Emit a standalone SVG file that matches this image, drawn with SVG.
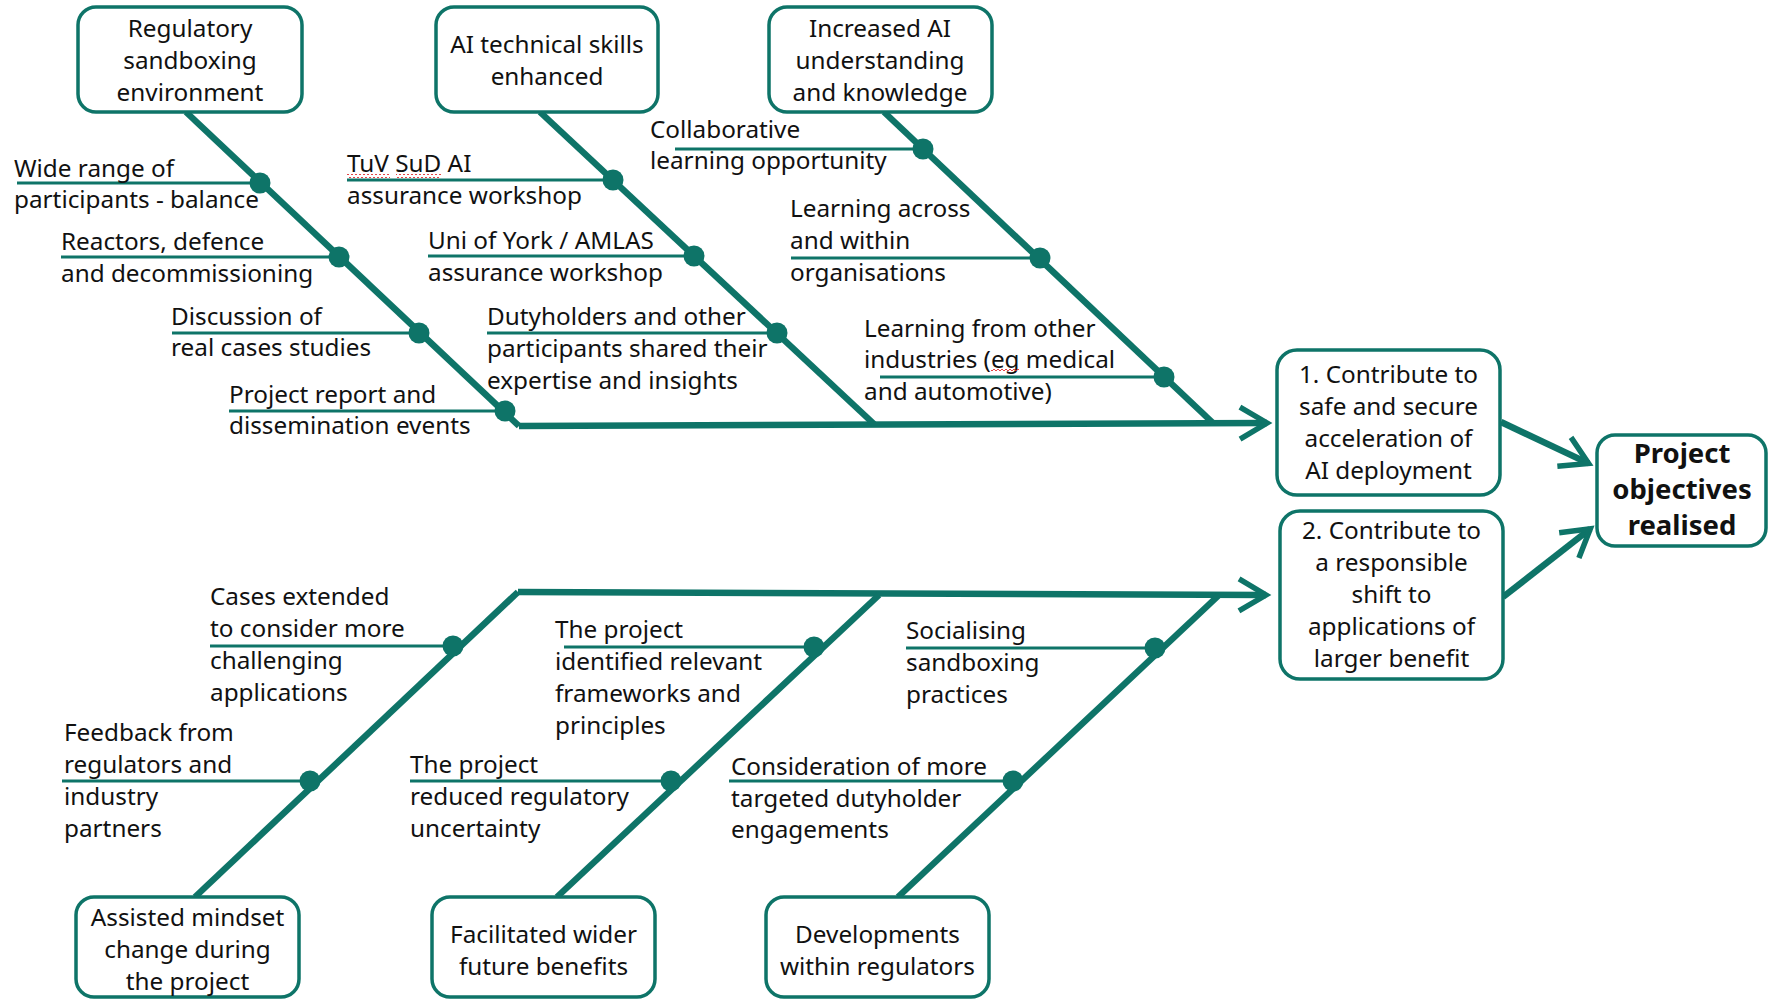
<svg xmlns="http://www.w3.org/2000/svg" width="1769" height="1000" viewBox="0 0 1769 1000">
  <style>
    .box { fill: #ffffff; stroke: #0E7468; stroke-width: 3.5; }
    .t { font-family: "Noto Sans", "Liberation Sans", Arial, sans-serif; font-size: 24.3px; fill: #111111; }
    .c { text-anchor: middle; }
    .b { font-weight: bold; font-size: 27.5px; }
    .bone { stroke: #0E7468; stroke-width: 6.5; fill: none; stroke-linecap: butt; }
    .sub { stroke: #0E7468; stroke-width: 3.2; fill: none; }
    .dot { fill: #0E7468; }
    .arr { stroke: #0E7468; stroke-width: 6.5; fill: none; marker-end: url(#head); }
    .sq { fill: url(#squiggle); }
  </style>
  <defs>
    <marker id="head" markerUnits="userSpaceOnUse" viewBox="-5 -25 50 50" markerWidth="50" markerHeight="50" refX="28" refY="0" orient="auto">
      <path d="M1,-16 L28,0 L1,16" fill="none" stroke="#0E7468" stroke-width="5.5" stroke-linejoin="miter" stroke-miterlimit="10"/>
    </marker>
    <pattern id="squiggle" patternUnits="userSpaceOnUse" x="0" y="0" width="4" height="4">
      <path d="M0,3 L2,1 L4,3" fill="none" stroke="#E03030" stroke-width="0.9"/>
    </pattern>
  </defs>

  <rect width="1769" height="1000" fill="#ffffff"/>

  <!-- Connectors: spines, bones, branch lines, dots, arrows -->
  <g id="connectors">
    <!-- top spine -->
    <path class="arr" d="M519,426 L1267,423"/>
    <!-- bottom spine -->
    <path class="arr" d="M518,592 L1266,595"/>
    <!-- outcome arrows -->
    <path class="arr" d="M1501,422 L1588.6,463.4"/>
    <path class="arr" d="M1503,597 L1590.3,528.7"/>

    <!-- top bones -->
    <path class="bone" d="M186,112 L519,426"/>
    <path class="bone" d="M540,112 L874,424"/>
    <path class="bone" d="M884,112 L1213,423"/>
    <!-- bottom bones -->
    <path class="bone" d="M518,592 L195,897"/>
    <path class="bone" d="M879,595 L557,897"/>
    <path class="bone" d="M1218,596 L898,897"/>

    <!-- branch lines, top -->
    <path class="sub" d="M17,183 H260"/>
    <path class="sub" d="M61,257 H339"/>
    <path class="sub" d="M172,333 H419"/>
    <path class="sub" d="M229,411 H505"/>
    <path class="sub" d="M347,180 H613"/>
    <path class="sub" d="M428,256 H694"/>
    <path class="sub" d="M487,333 H777"/>
    <path class="sub" d="M675,149 H923"/>
    <path class="sub" d="M791,258 H1040"/>
    <path class="sub" d="M880,377 H1164"/>
    <!-- branch lines, bottom -->
    <path class="sub" d="M210,646 H453"/>
    <path class="sub" d="M62,781 H310"/>
    <path class="sub" d="M564,647 H814"/>
    <path class="sub" d="M410,781 H671"/>
    <path class="sub" d="M906,648 H1155"/>
    <path class="sub" d="M729,781 H1013"/>

    <!-- dots -->
    <circle class="dot" cx="260" cy="183" r="10.5"/>
    <circle class="dot" cx="339" cy="257" r="10.5"/>
    <circle class="dot" cx="419" cy="333" r="10.5"/>
    <circle class="dot" cx="505" cy="411" r="10.5"/>
    <circle class="dot" cx="613" cy="180" r="10.5"/>
    <circle class="dot" cx="694" cy="256" r="10.5"/>
    <circle class="dot" cx="777" cy="333" r="10.5"/>
    <circle class="dot" cx="923" cy="149" r="10.5"/>
    <circle class="dot" cx="1040" cy="258" r="10.5"/>
    <circle class="dot" cx="1164" cy="377" r="10.5"/>
    <circle class="dot" cx="453" cy="646" r="10.5"/>
    <circle class="dot" cx="310" cy="781" r="10.5"/>
    <circle class="dot" cx="814" cy="647" r="10.5"/>
    <circle class="dot" cx="671" cy="781" r="10.5"/>
    <circle class="dot" cx="1155" cy="648" r="10.5"/>
    <circle class="dot" cx="1013" cy="781" r="10.5"/>
  </g>

  <!-- Top category nodes -->
  <g id="node-sandboxing">
    <rect class="box" x="78" y="7" width="224" height="105" rx="18"/>
    <text class="t c" x="190" y="37">Regulatory</text>
    <text class="t c" x="190" y="69">sandboxing</text>
    <text class="t c" x="190" y="101">environment</text>
  </g>
  <g id="node-skills">
    <rect class="box" x="436" y="7" width="222" height="105" rx="18"/>
    <text class="t c" x="547" y="53">AI technical skills</text>
    <text class="t c" x="547" y="85">enhanced</text>
  </g>
  <g id="node-understanding">
    <rect class="box" x="769" y="7" width="223" height="105" rx="18"/>
    <text class="t c" x="880" y="37">Increased AI</text>
    <text class="t c" x="880" y="69">understanding</text>
    <text class="t c" x="880" y="101">and knowledge</text>
  </g>

  <!-- Bottom category nodes -->
  <g id="node-mindset">
    <rect class="box" x="76" y="897" width="223" height="100" rx="18"/>
    <text class="t c" x="187.5" y="926">Assisted mindset</text>
    <text class="t c" x="187.5" y="958">change during</text>
    <text class="t c" x="187.5" y="990">the project</text>
  </g>
  <g id="node-benefits">
    <rect class="box" x="432" y="897" width="223" height="100" rx="18"/>
    <text class="t c" x="543.5" y="943">Facilitated wider</text>
    <text class="t c" x="543.5" y="975">future benefits</text>
  </g>
  <g id="node-regulators">
    <rect class="box" x="766" y="897" width="223" height="100" rx="18"/>
    <text class="t c" x="877.5" y="943">Developments</text>
    <text class="t c" x="877.5" y="975">within regulators</text>
  </g>

  <!-- Outcome nodes -->
  <g id="node-outcome-1">
    <rect class="box" x="1277" y="350" width="223" height="145" rx="20"/>
    <text class="t c" x="1388.5" y="383">1. Contribute to</text>
    <text class="t c" x="1388.5" y="415">safe and secure</text>
    <text class="t c" x="1388.5" y="447">acceleration of</text>
    <text class="t c" x="1388.5" y="479">AI deployment</text>
  </g>
  <g id="node-outcome-2">
    <rect class="box" x="1280" y="511" width="223" height="168" rx="20"/>
    <text class="t c" x="1391.5" y="539">2. Contribute to</text>
    <text class="t c" x="1391.5" y="571">a responsible</text>
    <text class="t c" x="1391.5" y="603">shift to</text>
    <text class="t c" x="1391.5" y="635">applications of</text>
    <text class="t c" x="1391.5" y="667">larger benefit</text>
  </g>
  <g id="node-objectives">
    <rect class="box" x="1597" y="435" width="169" height="111" rx="18"/>
    <text class="t c b" x="1682" y="463">Project</text>
    <text class="t c b" x="1682" y="499">objectives</text>
    <text class="t c b" x="1682" y="535">realised</text>
  </g>

  <!-- Branch labels, top -->
  <g id="label-wide-range">
    <text class="t" x="14" y="177">Wide range of</text>
    <text class="t" x="14" y="208">participants - balance</text>
  </g>
  <g id="label-reactors">
    <text class="t" x="61" y="250">Reactors, defence</text>
    <text class="t" x="61" y="282">and decommissioning</text>
  </g>
  <g id="label-discussion">
    <text class="t" x="171" y="325">Discussion of</text>
    <text class="t" x="171" y="356">real cases studies</text>
  </g>
  <g id="label-report">
    <text class="t" x="229" y="403">Project report and</text>
    <text class="t" x="229" y="434">dissemination events</text>
  </g>
  <g id="label-tuv">
    <text class="t" x="347" y="172">TuV SuD AI</text>
    <text class="t" x="347" y="204">assurance workshop</text>
    <rect class="sq" x="347" y="174" width="43" height="4"/>
    <rect class="sq" x="396" y="174" width="45" height="4"/>
  </g>
  <g id="label-york">
    <text class="t" x="428" y="249">Uni of York / AMLAS</text>
    <text class="t" x="428" y="281">assurance workshop</text>
  </g>
  <g id="label-dutyholders">
    <text class="t" x="487" y="325">Dutyholders and other</text>
    <text class="t" x="487" y="357">participants shared their</text>
    <text class="t" x="487" y="389">expertise and insights</text>
  </g>
  <g id="label-collaborative">
    <text class="t" x="650" y="138">Collaborative</text>
    <text class="t" x="650" y="169">learning opportunity</text>
  </g>
  <g id="label-learning-across">
    <text class="t" x="790" y="217">Learning across</text>
    <text class="t" x="790" y="249">and within</text>
    <text class="t" x="790" y="281">organisations</text>
  </g>
  <g id="label-learning-from">
    <text class="t" x="864" y="337">Learning from other</text>
    <text class="t" x="864" y="368">industries (eg medical</text>
    <text class="t" x="864" y="400">and automotive)</text>
    <rect class="sq" x="991" y="369" width="28" height="4"/>
  </g>

  <!-- Branch labels, bottom -->
  <g id="label-cases">
    <text class="t" x="210" y="605">Cases extended</text>
    <text class="t" x="210" y="637">to consider more</text>
    <text class="t" x="210" y="669">challenging</text>
    <text class="t" x="210" y="701">applications</text>
  </g>
  <g id="label-feedback">
    <text class="t" x="64" y="741">Feedback from</text>
    <text class="t" x="64" y="773">regulators and</text>
    <text class="t" x="64" y="805">industry</text>
    <text class="t" x="64" y="837">partners</text>
  </g>
  <g id="label-frameworks">
    <text class="t" x="555" y="638">The project</text>
    <text class="t" x="555" y="670">identified relevant</text>
    <text class="t" x="555" y="702">frameworks and</text>
    <text class="t" x="555" y="734">principles</text>
  </g>
  <g id="label-uncertainty">
    <text class="t" x="410" y="773">The project</text>
    <text class="t" x="410" y="805">reduced regulatory</text>
    <text class="t" x="410" y="837">uncertainty</text>
  </g>
  <g id="label-socialising">
    <text class="t" x="906" y="639">Socialising</text>
    <text class="t" x="906" y="671">sandboxing</text>
    <text class="t" x="906" y="703">practices</text>
  </g>
  <g id="label-consideration">
    <text class="t" x="731" y="775">Consideration of more</text>
    <text class="t" x="731" y="807">targeted dutyholder</text>
    <text class="t" x="731" y="838">engagements</text>
  </g>
</svg>
